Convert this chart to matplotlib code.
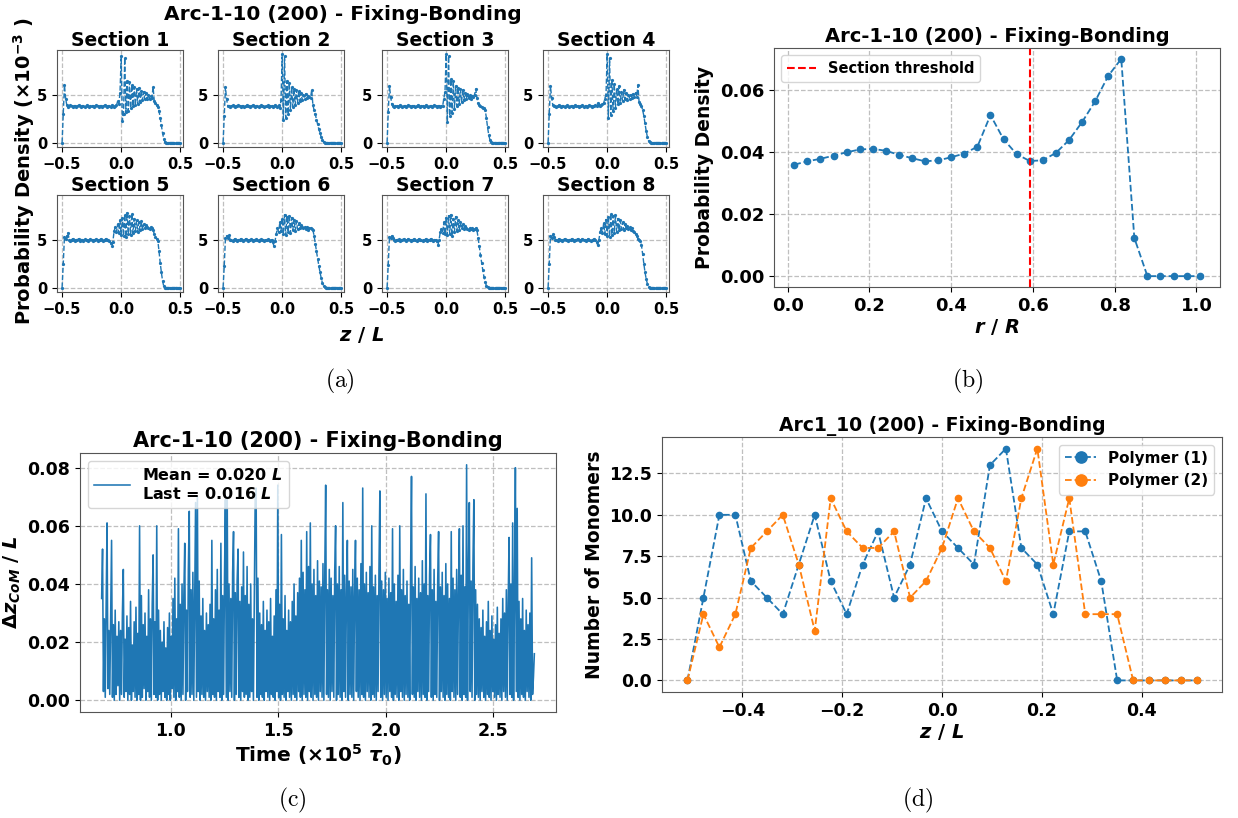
import numpy as np
import matplotlib
matplotlib.use("Agg")
import matplotlib.pyplot as plt

# ---------------- data ----------------
# (a) density profiles along z for 8 sections, values in units of 1e-3
sec1 = [0, 3.0, 6.0, 4.6, 3.9, 3.7, 3.8, 3.9, 3.8, 3.7,
        3.8, 3.8, 3.7, 3.8, 3.9, 3.8, 3.7, 3.8, 3.8, 3.7,
        3.8, 3.9, 3.8, 3.7, 3.8, 3.8, 3.8, 3.7, 3.8, 3.9,
        3.8, 3.7, 3.8, 3.8, 3.7, 3.8, 3.9, 3.8, 3.7, 3.8,
        3.8, 3.7, 3.9, 3.8, 3.7, 3.8, 3.9, 4.3, 4.0, 5.2,
        9.0, 2.3, 3.0, 8.8, 3.2, 6.4, 3.3, 6.3, 3.6, 6.0,
        3.8, 5.8, 3.9, 5.6, 4.0, 5.7, 4.2, 5.4, 4.4, 5.3,
        4.5, 5.2, 4.5, 5.0, 4.6, 4.9, 4.7, 5.8, 4.3, 4.1,
        3.9, 3.7, 3.3, 2.6, 1.8, 1.0, 0.4, 0.05, 0, 0,
        0, 0, 0, 0, 0, 0, 0, 0, 0, 0, 0]
sec2 = [0, 2.8, 5.8, 4.5, 3.8, 3.8, 3.7, 3.8, 3.9, 3.8,
        3.7, 3.8, 3.8, 3.9, 3.8, 3.7, 3.8, 3.8, 3.7, 3.8,
        3.9, 3.8, 3.8, 3.7, 3.8, 3.9, 3.8, 3.7, 3.8, 3.8,
        3.7, 3.8, 3.9, 3.8, 3.8, 3.7, 3.8, 3.8, 3.9, 3.7,
        3.8, 3.8, 3.7, 3.8, 3.9, 3.8, 3.7, 3.9, 3.6, 4.4,
        9.2, 2.4, 9.0, 2.6, 6.4, 3.0, 6.2, 3.4, 5.8, 3.7,
        5.6, 3.9, 5.5, 4.1, 5.4, 4.3, 5.2, 4.4, 5.0, 4.6,
        5.1, 4.7, 4.9, 4.8, 4.7, 5.5, 3.9, 3.4, 3.0, 2.4,
        1.9, 1.4, 1.0, 0.6, 0.3, 0.1, 0, 0, 0, 0,
        0, 0, 0, 0, 0, 0, 0, 0, 0, 0, 0]
sec3 = [0, 3.2, 5.9, 4.8, 4.0, 3.8, 3.7, 3.8, 3.8, 3.7,
        3.8, 3.9, 3.8, 3.7, 3.8, 3.8, 3.7, 3.8, 3.9, 3.8,
        3.7, 3.8, 3.8, 3.8, 3.7, 3.8, 3.9, 3.8, 3.7, 3.8,
        3.8, 3.7, 3.8, 3.9, 3.8, 3.7, 3.8, 3.8, 3.7, 3.8,
        3.9, 3.8, 3.7, 3.8, 3.8, 3.7, 3.8, 3.8, 4.6, 5.3,
        9.2, 2.2, 9.0, 2.8, 6.6, 3.1, 6.4, 3.5, 5.9, 3.8,
        5.7, 4.0, 5.6, 4.2, 5.5, 4.4, 5.2, 4.5, 5.1, 4.7,
        5.0, 4.6, 4.9, 4.8, 5.0, 5.6, 4.7, 4.1, 3.9, 3.8,
        3.7, 3.6, 3.6, 3.4, 2.6, 1.6, 0.8, 0.3, 0.05, 0,
        0, 0, 0, 0, 0, 0, 0, 0, 0, 0, 0]
sec4 = [0, 3.0, 5.9, 4.7, 3.9, 3.8, 3.8, 3.7, 3.8, 3.9,
        3.8, 3.7, 3.8, 3.8, 3.7, 3.8, 3.9, 3.8, 3.7, 3.8,
        3.8, 3.7, 3.8, 3.9, 3.8, 3.8, 3.7, 3.8, 3.8, 3.9,
        3.7, 3.8, 3.8, 3.7, 3.8, 3.9, 3.8, 3.7, 3.8, 3.8,
        3.9, 3.8, 4.1, 3.9, 3.8, 3.9, 4.0, 4.1, 4.6, 5.0,
        9.2, 2.6, 8.8, 2.9, 6.5, 3.3, 6.1, 3.6, 5.6, 4.0,
        5.9, 4.1, 5.3, 4.3, 5.5, 4.5, 5.2, 4.4, 5.0, 4.6,
        5.0, 4.7, 5.1, 4.8, 5.2, 4.8, 6.0, 4.2, 4.0, 3.8,
        3.4, 2.8, 2.0, 1.2, 0.6, 0.2, 0.05, 0, 0, 0,
        0, 0, 0, 0, 0, 0, 0, 0, 0, 0, 0]
sec5 = [0, 2.5, 5.3, 5.1, 5.4, 5.7, 5.0, 4.9, 5.0, 5.1,
        5.0, 4.9, 5.0, 5.0, 5.1, 4.9, 5.0, 5.0, 4.9, 5.1,
        5.0, 5.0, 4.9, 5.0, 5.1, 5.0, 4.9, 5.0, 5.0, 5.1,
        4.9, 5.0, 5.0, 5.1, 5.0, 4.9, 5.0, 5.1, 5.0, 5.0,
        4.9, 4.7, 4.3, 4.8, 5.9, 6.3, 5.8, 6.6, 5.7, 7.0,
        5.5, 7.3, 5.4, 7.6, 5.3, 7.8, 5.6, 7.5, 5.5, 7.7,
        5.7, 7.2, 5.9, 7.0, 5.8, 6.8, 6.0, 6.9, 6.1, 6.6,
        6.2, 6.5, 6.3, 6.2, 6.1, 6.3, 6.2, 6.0, 5.6, 5.3,
        5.1, 4.9, 3.8, 2.6, 1.6, 0.7, 0.15, 0, 0, 0,
        0, 0, 0, 0, 0, 0, 0, 0, 0, 0, 0]
sec6 = [0, 2.3, 5.2, 5.4, 5.2, 5.5, 5.0, 5.0, 4.9, 5.0,
        5.1, 5.0, 4.9, 5.0, 5.0, 5.1, 5.0, 4.9, 5.0, 5.1,
        5.0, 4.9, 5.0, 5.0, 5.1, 4.9, 5.0, 5.0, 5.1, 5.0,
        4.9, 5.0, 5.1, 5.0, 5.0, 4.9, 5.0, 5.0, 5.1, 5.0,
        4.9, 5.0, 4.8, 4.3, 4.9, 5.6, 6.2, 5.8, 6.8, 5.9,
        7.2, 5.6, 7.6, 5.5, 7.4, 5.8, 7.5, 5.7, 7.3, 6.0,
        7.1, 5.9, 6.9, 6.1, 6.7, 6.2, 6.5, 6.3, 6.2, 6.3,
        6.1, 6.3, 6.0, 6.2, 6.2, 6.1, 6.0, 5.4, 4.6, 3.8,
        3.0, 2.3, 1.6, 1.0, 0.5, 0.2, 0.05, 0, 0, 0,
        0, 0, 0, 0, 0, 0, 0, 0, 0, 0, 0]
sec7 = [0, 2.4, 5.3, 5.2, 5.4, 5.2, 5.0, 4.9, 5.0, 5.0,
        5.1, 4.9, 5.0, 5.0, 5.1, 5.0, 4.9, 5.0, 5.1, 5.0,
        4.9, 5.0, 5.0, 5.1, 5.0, 4.9, 5.0, 5.1, 5.0, 5.0,
        4.9, 5.0, 5.0, 5.1, 4.9, 5.0, 5.0, 5.1, 5.0, 4.9,
        5.0, 5.0, 4.9, 4.4, 5.0, 5.8, 6.1, 5.7, 6.8, 5.6,
        7.3, 5.5, 7.5, 5.6, 7.6, 5.4, 7.2, 5.8, 7.4, 5.9,
        7.0, 6.0, 6.8, 6.2, 6.6, 6.1, 6.4, 6.2, 6.1, 6.0,
        6.2, 6.1, 6.2, 6.0, 6.1, 6.2, 6.0, 5.2, 4.3, 3.4,
        2.6, 1.8, 1.1, 0.6, 0.2, 0.05, 0, 0, 0, 0,
        0, 0, 0, 0, 0, 0, 0, 0, 0, 0, 0]
sec8 = [0, 2.5, 5.4, 5.2, 5.6, 5.3, 5.0, 5.0, 4.9, 5.1,
        5.0, 5.0, 4.9, 5.0, 5.1, 5.0, 5.0, 4.9, 5.0, 5.0,
        5.1, 5.0, 4.9, 5.0, 5.0, 5.1, 5.0, 4.9, 5.0, 5.1,
        5.0, 5.0, 4.9, 5.0, 5.1, 5.0, 4.9, 5.0, 5.0, 5.1,
        5.0, 4.8, 4.4, 5.0, 5.8, 6.2, 5.7, 6.7, 5.6, 7.1,
        5.4, 7.4, 5.3, 7.7, 5.5, 7.5, 5.7, 7.6, 5.8, 7.2,
        6.0, 7.0, 6.1, 6.8, 6.0, 6.6, 6.2, 6.4, 6.1, 6.3,
        6.0, 6.2, 5.9, 5.8, 5.6, 5.4, 5.1, 5.0, 4.9, 4.4,
        3.5, 2.5, 1.6, 0.9, 0.4, 0.1, 0, 0, 0, 0,
        0, 0, 0, 0, 0, 0, 0, 0, 0, 0, 0]
sections = [sec1, sec2, sec3, sec4, sec5, sec6, sec7, sec8]
z_sec = np.linspace(-0.5, 0.5, 101)

# (b) radial density
r_bins = [0.016, 0.048, 0.080, 0.112, 0.144, 0.176, 0.208, 0.240,
          0.272, 0.304, 0.336, 0.368, 0.400, 0.432, 0.464, 0.496,
          0.528, 0.560, 0.592, 0.624, 0.656, 0.688, 0.720, 0.752,
          0.784, 0.816, 0.848, 0.880, 0.912, 0.944, 0.976, 1.008]
r_density = [0.0359, 0.0370, 0.0378, 0.0388, 0.0399, 0.0408, 0.0410, 0.0404,
             0.0391, 0.0380, 0.0370, 0.0373, 0.0383, 0.0395, 0.0417, 0.0519,
             0.0441, 0.0393, 0.0371, 0.0373, 0.0397, 0.0438, 0.0496, 0.0563,
             0.0645, 0.0700, 0.0123, 0, 0, 0, 0, 0]
threshold = 0.593

# (c) CoM separation vs time, values in units of 1e-3 L
dz_com = [35, 52, 3, 28, 1, 33, 61, 4, 24, 2, 30, 55, 1, 26, 0, 31, 2, 22, 5, 27,
          0, 24, 2, 30, 45, 1, 21, 3, 29, 0, 25, 2, 34, 0, 19, 3, 27, 1, 32, 0,
          23, 2, 60, 0, 36, 1, 26, 4, 30, 0, 22, 3, 38, 1, 28, 0, 33, 50, 2, 27,
          1, 60, 0, 31, 2, 24, 0, 20, 3, 27, 1, 18, 0, 25, 2, 30, 0, 22, 4, 35,
          1, 42, 0, 28, 3, 59, 1, 33, 0, 40, 2, 36, 54, 0, 31, 3, 45, 65, 1, 38,
          2, 44, 0, 36, 68, 1, 70, 3, 41, 0, 29, 2, 35, 1, 24, 0, 30, 3, 26, 1,
          33, 0, 55, 2, 28, 1, 38, 0, 45, 3, 31, 1, 54, 0, 36, 2, 42, 69, 1, 70,
          0, 40, 3, 35, 1, 44, 58, 0, 37, 2, 41, 52, 1, 34, 0, 39, 3, 51, 1, 36,
          2, 46, 0, 33, 1, 40, 3, 28, 0, 37, 70, 73, 1, 42, 0, 30, 2, 26, 1, 34,
          0, 24, 3, 31, 1, 27, 0, 35, 2, 22, 1, 29, 0, 38, 3, 74, 1, 33, 0, 57,
          2, 28, 1, 36, 0, 24, 3, 31, 1, 27, 0, 34, 2, 40, 1, 29, 0, 37, 3, 42,
          1, 55, 0, 44, 2, 38, 1, 58, 0, 46, 3, 61, 1, 40, 0, 45, 2, 36, 1, 48,
          0, 41, 3, 39, 1, 47, 0, 43, 74, 2, 38, 1, 45, 0, 42, 3, 36, 1, 44, 60,
          0, 40, 2, 46, 1, 38, 0, 68, 3, 43, 1, 37, 55, 0, 41, 2, 39, 1, 45, 0,
          36, 55, 3, 42, 1, 38, 0, 47, 2, 73, 1, 40, 0, 44, 3, 37, 1, 46, 0, 60,
          2, 39, 1, 43, 0, 36, 3, 45, 72, 1, 41, 0, 38, 2, 44, 1, 35, 0, 42, 3,
          37, 1, 59, 0, 40, 2, 34, 1, 43, 0, 60, 3, 38, 1, 45, 0, 36, 2, 41, 1,
          33, 0, 44, 77, 2, 39, 1, 46, 0, 35, 3, 42, 1, 37, 0, 48, 2, 40, 1, 71,
          0, 36, 3, 43, 57, 1, 38, 0, 45, 2, 34, 1, 41, 58, 0, 39, 3, 44, 1, 36,
          0, 47, 2, 40, 1, 35, 0, 58, 3, 42, 1, 38, 0, 45, 2, 37, 59, 1, 43, 0,
          60, 2, 39, 1, 81, 0, 44, 68, 3, 41, 1, 46, 69, 0, 38, 2, 33, 1, 28, 0,
          25, 3, 31, 1, 22, 0, 27, 2, 34, 1, 24, 0, 29, 3, 21, 1, 26, 0, 32, 2,
          23, 1, 28, 0, 35, 3, 30, 1, 38, 0, 33, 56, 2, 40, 1, 61, 0, 36, 80, 3,
          66, 1, 34, 0, 28, 2, 35, 1, 24, 0, 31, 3, 26, 1, 30, 0, 49, 2, 8, 16]
t_start, t_end = 0.68, 2.69

# (d) monomer counts per z-bin
z_bins = [-0.510, -0.478, -0.446, -0.414, -0.383, -0.351, -0.319, -0.287,
          -0.255, -0.223, -0.191, -0.159, -0.128, -0.096, -0.064, -0.032,
          0.0, 0.032, 0.064, 0.096, 0.128, 0.159, 0.191, 0.223,
          0.255, 0.287, 0.319, 0.351, 0.383, 0.414, 0.446, 0.478, 0.510]
poly1 = [0, 5, 10, 10, 6, 5, 4, 7, 10, 6, 4, 7, 9, 5, 7, 11, 9,
         8, 7, 13, 14, 8, 7, 4, 9, 9, 6, 0, 0, 0, 0, 0, 0]
poly2 = [0, 4, 2, 4, 8, 9, 10, 7, 3, 11, 9, 8, 8, 9, 5, 6, 8,
         11, 9, 8, 6, 11, 14, 7, 11, 4, 4, 4, 0, 0, 0, 0, 0]

title = 'Arc-1-10 (200) - Fixing-Bonding'

# ---------------- figure ----------------
plt.rcParams['font.family'] = 'DejaVu Sans'
plt.rcParams['font.weight'] = 'bold'
plt.rcParams['axes.titleweight'] = 'bold'
plt.rcParams['axes.labelweight'] = 'bold'
plt.rcParams['axes.edgecolor'] = '#555555'

W, H = 1238, 818
fig = plt.figure(figsize=(W / 100, H / 100), dpi=100)


def ax_px(l, t, r, b):
    return fig.add_axes([l / W, 1 - b / H, (r - l) / W, (b - t) / H])


def style(ax):
    ax.grid(True, ls='--', color='#b0b0b0', lw=0.9, alpha=0.8)
    ax.set_axisbelow(True)


blue = '#1f77b4'
orange = '#ff7f0e'

# (a) 2x4 sections
lefts = [57, 218, 382, 543]
tops = [50, 195]
for k, vals in enumerate(sections):
    l = lefts[k % 4]
    t = tops[k // 4]
    ax = ax_px(l, t, l + 126, t + 97)
    ax.plot(z_sec, vals, '--', marker='o', ms=1.3, lw=1.0, color=blue)
    ax.set_xlim(-0.543, 0.523)
    ax.set_ylim(-0.46, 9.66)
    ax.set_yticks([0, 5])
    ax.set_xticks([-0.5, 0.0, 0.5])
    ax.tick_params(labelsize=10.5)
    ax.set_title('Section %d' % (k + 1), fontsize=13.5, pad=3)
    style(ax)

fig.text(343 / W, 1 - 14 / H, title, ha='center', va='center', fontsize=14.5, fontweight='bold')
fig.text(362 / W, 1 - 335 / H, r'$\mathbfit{z}$ / $\mathbfit{L}$', ha='center', va='center', fontsize=14)
fig.text(24 / W, 1 - 171 / H, r'Probability Density ($\mathbf{\times}$10$^{\mathbf{-3}}$ )',
         ha='center', va='center', rotation=90, fontsize=14)

# (b) radial profile
axb = ax_px(774, 48, 1220, 287)
axb.plot(r_bins, r_density, '--', marker='o', ms=4.5, lw=1.3, color=blue)
axb.axvline(threshold, color='red', ls='--', lw=1.5, label='Section threshold')
axb.set_title(title, fontsize=14, pad=4)
axb.set_xlabel(r'$\mathbfit{r}$ / $\mathbfit{R}$', fontsize=14, labelpad=2)
axb.set_ylabel('Probability Density', fontsize=13.5)
axb.tick_params(labelsize=13)
axb.legend(loc='upper left', fontsize=10.5)
style(axb)

# (c) CoM distance time series
axc = ax_px(80, 453, 556, 712)
t_c = np.linspace(t_start, t_end, len(dz_com))
axc.plot(t_c, np.array(dz_com) / 1000, color=blue, lw=1.15,
         label='Mean = 0.020 $\\mathbfit{L}$\nLast = 0.016 $\\mathbfit{L}$')
axc.set_title(title, fontsize=15, pad=4)
axc.set_xlabel(r'Time ($\mathbf{\times}$10$^{\mathbf{5}}$ $\mathbfit{\tau}_{\mathbf{0}}$)', fontsize=14.5, labelpad=2)
axc.set_ylabel(r'$\mathbf{\Delta}\mathbfit{z}_{\mathbfit{CoM}}$ / $\mathbfit{L}$', fontsize=14, labelpad=3)
axc.set_xticks([1.0, 1.5, 2.0, 2.5])
axc.tick_params(labelsize=12.5)
axc.legend(loc='upper left', fontsize=11.5, handlelength=2.2)
style(axc)

# (d) monomers per bin
axd = ax_px(662, 437, 1222, 692)
axd.plot(z_bins, poly1, '--', marker='o', ms=4.5, lw=1.3, color=blue, label='Polymer (1)')
axd.plot(z_bins, poly2, '--', marker='o', ms=4.5, lw=1.3, color=orange, label='Polymer (2)')
axd.set_title('Arc1_10 (200) - Fixing-Bonding', fontsize=13.5, pad=4)
axd.set_xlabel(r'$\mathbfit{z}$ / $\mathbfit{L}$', fontsize=14, labelpad=2)
axd.set_ylabel('Number of Monomers', fontsize=13.5)
axd.set_yticks([0, 2.5, 5.0, 7.5, 10.0, 12.5])
axd.tick_params(labelsize=12.5)
axd.legend(loc='upper right', fontsize=11, markerscale=1.8)
style(axd)

# captions
for x, y, s in [(340, 381, '(a)'), (968, 381, '(b)'), (292, 800, '(c)'), (918, 800, '(d)')]:
    fig.text(x / W, 1 - y / H, '$\\mathrm{%s}$' % s, ha='center', va='center',
             fontsize=17, math_fontfamily='cm')

fig.savefig('out.png', dpi=100)
